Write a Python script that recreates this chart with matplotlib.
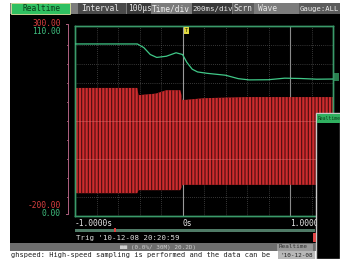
import matplotlib
matplotlib.use('Agg')
import matplotlib.pyplot as plt
from matplotlib.patches import Rectangle

# green trace (right scale 0..110)
g_t = [-1.0, -0.42, -0.36, -0.30, -0.24, -0.15, -0.06, 0.0, 0.04, 0.09, 0.14, 0.23,
       0.40, 0.52, 0.62, 0.80, 0.95, 1.1, 1.25, 1.4]
g_v = [99.6, 99.6, 97.5, 93.5, 91.8, 92.5, 94.5, 93.5, 89.0, 85.0, 83.4, 82.6,
       81.5, 79.5, 78.8, 78.9, 79.8, 79.6, 79.2, 79.3]

# red trace envelope (left scale -200..300)
r_t = [-1.0, -0.42, -0.41, -0.25, -0.15, -0.02, 0.0, 0.2, 0.6, 1.0, 1.4]
r_top = [137, 137, 118, 122, 131, 131, 105, 110, 113, 113, 113]
r_bot = [-140, -140, -132, -132, -132, -132, -118, -118, -118, -118, -118]

x_ticks = [-1.0, 0.0, 1.0]
x_labels = ['-1.0000s', '0s', '1.0000']

W, H = 340, 259
MONO = 'DejaVu Sans Mono'
plt.rcParams['hatch.linewidth'] = 0.8

fig = plt.figure(figsize=(W / 100, H / 100), dpi=100)
fig.patch.set_facecolor('black')


def px(x, y):
    return x / W, 1 - y / H


def box(x, y, w, h, fc, ec='none', lw=0.6, z=0):
    fig.add_artist(Rectangle(px(x, y + h), w / W, h / H, transform=fig.transFigure,
                             facecolor=fc, edgecolor=ec, linewidth=lw, zorder=z))


def txt(x, y, s, color, size=5.7, ha='left', z=5):
    fig.text(*px(x, y), s, color=color, fontsize=size, family=MONO,
             ha=ha, va='center', zorder=z)


# white frame strips
box(0, 0, 10, H, 'white')
box(0, 0, W, 3, 'white')

# top status bar
box(10, 3, 330, 11, '#7c7c7c')
box(11, 3.5, 59, 10, '#2fc060', ec='#e0e0a0')
txt(22, 8.5, 'Realtime', '#0b3d1a')
box(78, 3.5, 48, 10, '#4a4a4a')
txt(81, 8.5, 'Interval', '#e8e8e8')
box(127, 3.5, 24, 10, '#3a3a3a')
txt(128, 8.5, '100\u03bcs', '#e8e8e8')
txt(152, 8.5, 'Time/div', '#f0f0f0')
box(192, 3.5, 40, 10, '#3a3a3a')
txt(192.5, 8.5, '200ms/div', '#e8e8e8', size=5.4)
box(233, 3.5, 21, 10, '#5c5c5c')
txt(234, 8.5, 'Scrn', '#e8e8e8')
txt(258, 8.5, 'Wave', '#e8e8e8')
box(299, 3.5, 41, 10, '#5c5c5c')
txt(300, 8.5, 'Gauge:ALL', '#f0f0f0', size=5.2)

# main plot
ax = fig.add_axes([75 / W, (H - 216) / H, (333 - 75) / W, 190 / H])
ax.set_facecolor('black')
ax.set_xlim(-1.0, 1.4)
ax.set_ylim(-200, 300)
for v in [i * 0.2 - 1.0 for i in range(1, 12)]:
    ax.axvline(v, color='#6a6a6a', lw=0.5, ls=(0, (1, 2)), zorder=1)
for v in range(-150, 300, 50):
    ax.axhline(v, color='#6a6a6a', lw=0.5, ls=(0, (1, 2)), zorder=1)
ax.axvline(0.0, color='#9a9a9a', lw=0.8, zorder=1)
ax.axvline(1.0, color='#8a8a8a', lw=0.8, zorder=1)

ax.fill_between(r_t, r_bot, r_top, facecolor='#cc2c2e', edgecolor='#4a0c0e',
                hatch='|||||', lw=0, zorder=2)
for v in [50, -50]:
    ax.axhline(v, color='#e07070', lw=0.5, alpha=0.6, zorder=3)

ax2 = ax.twinx()
ax2.set_ylim(0, 110)
ax2.plot(g_t, g_v, color='#40c888', lw=0.9, zorder=4)
for a in (ax, ax2):
    a.set_xticks([])
    a.set_yticks([])
    for s in a.spines.values():
        s.set_color('#3a9a6a')
        s.set_linewidth(1.0)

# trigger flag and S marker
box(184, 27, 5, 7, '#e0d840', z=6)
txt(186.5, 30.5, 'T', '#202000', size=4, ha='center', z=7)
box(333, 73, 6, 8, '#2a8050')

# left scale labels and bracket
txt(61, 24, '300.00', '#d84040', ha='right')
txt(61, 32, '110.00', '#40c080', ha='right')
txt(61, 206, '-200.00', '#d84040', ha='right')
txt(61, 214, '0.00', '#40c080', ha='right')
fig.add_artist(plt.Line2D([66, 68, 68, 66], [H - 24, H - 24, H - 214, H - 214],
                          transform=None, color='#b06080', lw=0.7))
for k in range(1, 10):
    fig.add_artist(plt.Line2D([66.5, 68], [H - 26 - 19 * k] * 2,
                              transform=None, color='#b06080', lw=0.6))

# x labels
for t, lab in zip(x_ticks, x_labels):
    xx = 75 + (t + 1.0) / 2.4 * 258
    txt(xx, 224, lab, '#e8e8e8')

# scroll bar
box(75, 228.5, 240, 3, '#4f7a66')
box(114, 228, 2, 4, '#e04040')
txt(76, 238, "Trig '10-12-08 20:20:59", '#e0e0e0', size=5.3)

# bottom status bars
box(10, 243, 330, 8, '#6e6e6e')
txt(120, 247, '\u25a0\u25a0 (0.0%/ 30M) 20.2D)', '#d0d0d0', size=4.3)
box(277, 243.5, 36, 7, '#9a9a9a')
txt(279, 247, 'Realtime', '#303030', size=4.3)
box(10, 251, 330, 8, 'white')
txt(11, 255.5, 'ghspeed: High-speed sampling is performed and the data can be',
    '#202020', size=5.0)
box(278, 251, 37, 8, '#b8b8b8')
txt(281, 255.5, "'10-12-08", '#202020', size=4.3)

# popup window on right
box(316, 113, 24, 146, 'black', ec='#c8c8c8', lw=1.0, z=8)
box(317, 114, 23, 9, '#30b060', z=9)
txt(318, 118.5, 'Realtime', '#0b3d1a', size=3.4, z=10)
box(313, 233, 3, 9, '#e04848', z=9)

fig.savefig('out.png', dpi=100, facecolor=fig.get_facecolor())
